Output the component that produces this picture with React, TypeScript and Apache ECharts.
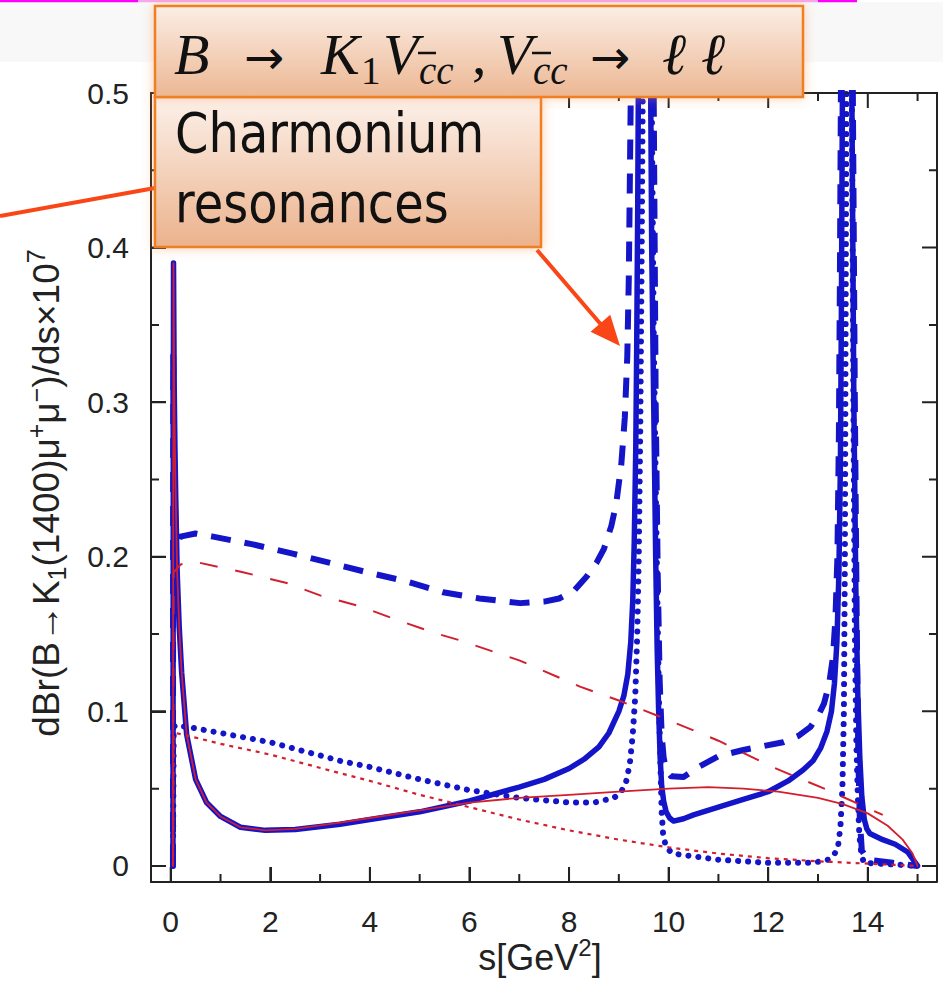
import React, { useEffect, useRef } from 'react';
import * as echarts from 'echarts';

// Axis ticks (s in GeV^2, rate in units of 1e-7)
const xMajorTicks = [0, 2, 4, 6, 8, 10, 12, 14];
const xMinorTicks = [1, 3, 5, 7, 9, 11, 13, 15];
const yMajorTicks = [0, 0.1, 0.2, 0.3, 0.4, 0.5];
const yMinorTicks = [0.05, 0.15, 0.25, 0.35, 0.45];

// Blue: with charmonium resonances; red: short-distance only
const blueSolid: [number, number][] = [
  [0.045, 0], [0.05, 0.2], [0.056, 0.39], [0.07, 0.31], [0.085, 0.27], [0.1, 0.24], [0.13, 0.19],
  [0.17, 0.155], [0.22, 0.125], [0.32, 0.085], [0.5, 0.056], [0.72, 0.041], [1.0, 0.032],
  [1.4, 0.025], [1.9, 0.023], [2.5, 0.0235], [3.4, 0.027], [4.0, 0.03], [5.0, 0.035],
  [6.0, 0.042], [7.0, 0.051], [7.5, 0.056], [8.0, 0.063], [8.3, 0.069], [8.6, 0.077],
  [8.8, 0.086], [9.0, 0.1], [9.1, 0.11], [9.18, 0.124], [9.24, 0.145], [9.28, 0.172],
  [9.31, 0.21], [9.34, 0.27], [9.36, 0.34], [9.38, 0.43], [9.4, 0.55], [9.5, 1.5],
  [9.62, 0.6], [9.66, 0.4], [9.7, 0.3], [9.74, 0.2], [9.77, 0.14], [9.8, 0.1], [9.83, 0.07],
  [9.86, 0.052], [9.9, 0.042], [9.95, 0.035], [10.02, 0.031], [10.1, 0.029], [10.3, 0.0305],
  [10.5, 0.033], [11.0, 0.038], [11.5, 0.043], [12.0, 0.048], [12.4, 0.055], [12.7, 0.062],
  [12.9, 0.068], [13.05, 0.076], [13.18, 0.087], [13.27, 0.1], [13.33, 0.118], [13.38, 0.145],
  [13.42, 0.19], [13.45, 0.26], [13.47, 0.36], [13.49, 0.5], [13.58, 1.5], [13.68, 0.5],
  [13.72, 0.3], [13.76, 0.18], [13.8, 0.11], [13.84, 0.07], [13.88, 0.045], [13.93, 0.03],
  [13.98, 0.024], [14.04, 0.021], [14.3, 0.017], [14.55, 0.014], [14.8, 0.009], [15.0, 0],
];

const blueDashed: [number, number][] = [
  [0.045, 0], [0.05, 0.33], [0.07, 0.24], [0.1, 0.205], [0.14, 0.208], [0.19, 0.213],
  [0.5, 0.215], [0.85, 0.213], [1.65, 0.208], [2.45, 0.202], [3.2, 0.196], [3.94, 0.19],
  [4.74, 0.184], [5.47, 0.177], [6.2, 0.173], [7.02, 0.17], [7.5, 0.171], [7.8, 0.173],
  [8.1, 0.178], [8.35, 0.187], [8.55, 0.196], [8.7, 0.205], [8.85, 0.22], [8.95, 0.235],
  [9.05, 0.26], [9.12, 0.29], [9.17, 0.33], [9.2, 0.38], [9.22, 0.44], [9.24, 0.5],
  [9.3, 0.8], [9.5, 1.5], [9.7, 0.5], [9.74, 0.3], [9.78, 0.19], [9.82, 0.12], [9.86, 0.085],
  [9.9, 0.07], [9.95, 0.062], [10.05, 0.058], [10.3, 0.0576], [10.6, 0.064], [11.0, 0.071],
  [11.5, 0.075], [11.9, 0.0775], [12.3, 0.08], [12.6, 0.084], [12.85, 0.09], [13.0, 0.097],
  [13.12, 0.105], [13.22, 0.117], [13.3, 0.135], [13.35, 0.16], [13.39, 0.2], [13.42, 0.28],
  [13.44, 0.38], [13.46, 0.5], [13.57, 1.5], [13.7, 0.5], [13.74, 0.3], [13.78, 0.15],
  [13.81, 0.07], [13.84, 0.03], [13.88, 0.01], [14.0, 0.004], [14.5, 0.002], [15.0, 0],
];

const blueDotted: [number, number][] = [
  [0.045, 0], [0.06, 0.09], [0.1, 0.091], [0.5, 0.089], [1.0, 0.086], [2.0, 0.08],
  [3.4, 0.068], [4.0, 0.064], [5.0, 0.056], [6.0, 0.049], [7.0, 0.044], [8.0, 0.041],
  [8.5, 0.041], [8.9, 0.044], [9.05, 0.048], [9.15, 0.055], [9.22, 0.066], [9.28, 0.085],
  [9.33, 0.11], [9.37, 0.15], [9.4, 0.2], [9.43, 0.28], [9.46, 0.4], [9.48, 0.5], [9.56, 1.5],
  [9.66, 0.5], [9.7, 0.35], [9.74, 0.25], [9.78, 0.16], [9.81, 0.1], [9.84, 0.06],
  [9.86, 0.035], [9.89, 0.02], [9.95, 0.012], [10.08, 0.008], [11.0, 0.004], [12.0, 0.002],
  [12.9, 0.002], [13.2, 0.004], [13.32, 0.007], [13.4, 0.012], [13.45, 0.025], [13.49, 0.05],
  [13.52, 0.1], [13.54, 0.2], [13.56, 0.4], [13.57, 0.5], [13.62, 1.5], [13.68, 0.5],
  [13.71, 0.3], [13.74, 0.15], [13.77, 0.08], [13.8, 0.045], [13.83, 0.02], [13.87, 0.008],
  [13.92, 0.002], [14.5, 0.001], [15.0, 0],
];

const redSolid: [number, number][] = [
  [0.045, 0], [0.05, 0.2], [0.056, 0.39], [0.07, 0.31], [0.085, 0.27], [0.1, 0.24], [0.13, 0.19],
  [0.17, 0.155], [0.22, 0.125], [0.32, 0.085], [0.5, 0.056], [0.72, 0.041], [1.0, 0.032],
  [1.4, 0.025], [1.9, 0.023], [2.5, 0.024], [3.4, 0.028], [4.0, 0.031], [5.0, 0.036],
  [6.0, 0.041], [7.0, 0.044], [8.0, 0.046], [9.0, 0.048], [10.0, 0.05], [10.8, 0.051],
  [11.5, 0.05], [12.2, 0.048], [13.0, 0.044], [13.5, 0.04], [14.0, 0.034], [14.4, 0.026],
  [14.7, 0.017], [14.9, 0.008], [15.0, 0],
];

const redDashed: [number, number][] = [
  [0.045, 0], [0.06, 0.19], [0.2, 0.195], [0.45, 0.197], [1.45, 0.19], [2.33, 0.183],
  [3.0, 0.175], [3.8, 0.168], [4.47, 0.16], [5.27, 0.151], [5.8, 0.146], [7.0, 0.133],
  [8.22, 0.116], [9.0, 0.107], [9.87, 0.096], [11.0, 0.081], [12.08, 0.064], [13.2, 0.049],
  [14.3, 0.033],
];

const redDotted: [number, number][] = [
  [0.045, 0], [0.06, 0.085], [0.1, 0.086], [0.5, 0.083], [1.0, 0.079], [2.0, 0.072],
  [3.4, 0.06], [4.0, 0.055], [5.0, 0.046], [6.0, 0.038], [7.0, 0.03], [8.0, 0.023],
  [9.0, 0.017], [10.0, 0.012], [11.0, 0.008], [12.0, 0.005], [13.0, 0.003], [14.0, 0.0015],
  [15.0, 0],
];

const BLUE = '#1414c8';
const RED = '#d21f2f';
const ORANGE = '#f07f23';
const ARROW = '#fa4617';
const AXIS = '#222';

const X_MIN = -0.396;
const X_MAX = 15.39;
const Y_MIN = -0.0104;
const Y_MAX = 0.5;

const GRID = { left: 151, top: 93, right: 6, bottom: 101 };
const PLOT_W = 943 - GRID.left - GRID.right;
const PLOT_H = 983 - GRID.top - GRID.bottom;
const MAJOR_PX = 15;
const MINOR_PX = 8;

const sans = "'Liberation Sans', Arial, sans-serif";
const serif = "'Liberation Serif', 'Times New Roman', serif";

function lineSeries(data: [number, number][], color: string, width: number, type: any, cap: string, z: number) {
  return {
    type: 'line',
    data,
    symbol: 'none',
    smooth: false,
    clip: true,
    z,
    lineStyle: { color, width, type, cap, join: 'round' },
  };
}

// One "comb" polyline per frame side: it runs along the edge and steps inward at every tick.
function combSeries() {
  const dxPerPx = (X_MAX - X_MIN) / PLOT_W;
  const dyPerPx = (Y_MAX - Y_MIN) / PLOT_H;
  const xTicks = [
    ...xMajorTicks.map((v) => ({ v, px: MAJOR_PX })),
    ...xMinorTicks.map((v) => ({ v, px: MINOR_PX })),
  ].sort((a, b) => a.v - b.v);
  const yTicks = [
    ...yMajorTicks.map((v) => ({ v, px: MAJOR_PX })),
    ...yMinorTicks.map((v) => ({ v, px: MINOR_PX })),
  ].sort((a, b) => a.v - b.v);

  const horizontal = (edge: number, dir: number) => {
    const pts: [number, number][] = [[X_MIN, edge]];
    xTicks.forEach(({ v, px }) => {
      pts.push([v, edge], [v, edge + dir * px * dyPerPx], [v, edge]);
    });
    pts.push([X_MAX, edge]);
    return pts;
  };
  const vertical = (edge: number, dir: number) => {
    const pts: [number, number][] = [[edge, Y_MIN]];
    yTicks.forEach(({ v, px }) => {
      pts.push([edge, v], [edge + dir * px * dxPerPx, v], [edge, v]);
    });
    pts.push([edge, Y_MAX]);
    return pts;
  };
  const mk = (data: [number, number][]) => ({
    type: 'line',
    data,
    symbol: 'none',
    clip: false,
    lineStyle: { color: AXIS, width: 2, join: 'miter' },
  });
  return [
    mk(horizontal(Y_MIN, 1)),
    mk(horizontal(Y_MAX, -1)),
    mk(vertical(X_MIN, 1)),
    mk(vertical(X_MAX, -1)),
  ];
}

const boxFill = (top: string, bottom: string) => ({
  type: 'linear',
  x: 0, y: 0, x2: 0, y2: 1,
  colorStops: [
    { offset: 0, color: top },
    { offset: 1, color: bottom },
  ],
});

function mathText(text: string, x: number, baseline: number, size: number, italic: boolean, family = serif) {
  const y = baseline - 0.34 * size;
  return {
    type: 'text',
    x,
    y,
    z: 120,
    style: {
      text,
      fill: '#111',
      fontSize: size,
      fontFamily: family,
      fontStyle: italic ? 'italic' : 'normal',
      align: 'left',
      verticalAlign: 'middle',
      textAlign: 'left',
      textVerticalAlign: 'middle',
    },
  };
}

function arrowHead(tipX: number, tipY: number, fromX: number, fromY: number, len: number, half: number) {
  const dx = tipX - fromX;
  const dy = tipY - fromY;
  const d = Math.hypot(dx, dy);
  const ux = dx / d;
  const uy = dy / d;
  const bx = tipX - ux * len;
  const by = tipY - uy * len;
  return [
    [tipX, tipY],
    [bx - uy * half, by + ux * half],
    [bx + uy * half, by - ux * half],
  ];
}

function decorations() {
  const arrowFrom = [537, 250];
  const arrowTip = [620, 346];
  return [
    // faint grey strip at the top of the slide
    { type: 'rect', z: -10, shape: { x: 0, y: 2, width: 943, height: 60 }, style: { fill: '#f8f8f8' } },
    // magenta rule
    { type: 'line', z: 90, shape: { x1: 0, y1: 1, x2: 138, y2: 1 }, style: { stroke: '#ff00ff', lineWidth: 2.5 } },
    { type: 'line', z: 90, shape: { x1: 138, y1: 1, x2: 818, y2: 1 }, style: { stroke: '#f6a6ef', lineWidth: 2.5 } },
    { type: 'line', z: 90, shape: { x1: 818, y1: 1, x2: 857, y2: 1 }, style: { stroke: '#ff00ff', lineWidth: 2.5 } },

    // pointer from the left margin to the callout box
    { type: 'line', z: 95, shape: { x1: 0, y1: 216, x2: 155, y2: 188 }, style: { stroke: ARROW, lineWidth: 4 } },

    // callout: charmonium resonances
    {
      type: 'rect', z: 100,
      shape: { x: 155, y: 97, width: 386, height: 150 },
      style: {
        fill: boxFill('#fcf1ea', '#ebb28c'), stroke: ORANGE, lineWidth: 2.5,
        shadowBlur: 12, shadowColor: 'rgba(244,150,80,0.45)',
      },
    },
    {
      type: 'text', z: 120, x: 175, y: 133, scaleY: 1.15,
      style: {
        text: 'Charmonium', fill: '#111', fontSize: 48, fontFamily: "'DejaVu Sans', sans-serif",
        align: 'left', verticalAlign: 'middle', textAlign: 'left', textVerticalAlign: 'middle',
      },
    },
    {
      type: 'text', z: 120, x: 175, y: 203, scaleY: 1.15,
      style: {
        text: 'resonances', fill: '#111', fontSize: 48, fontFamily: "'DejaVu Sans', sans-serif",
        align: 'left', verticalAlign: 'middle', textAlign: 'left', textVerticalAlign: 'middle',
      },
    },

    // title box: B -> K1 V(cc), V(cc) -> l l
    {
      type: 'rect', z: 105,
      shape: { x: 155, y: 6, width: 648, height: 91 },
      style: {
        fill: boxFill('#fbeee5', '#ecb793'), stroke: ORANGE, lineWidth: 2.5,
        shadowBlur: 12, shadowColor: 'rgba(244,150,80,0.45)',
      },
    },
    mathText('B', 174, 74, 58, true),
    mathText('→', 244, 73, 48, false, "'DejaVu Sans', sans-serif"),
    mathText('K', 321, 74, 58, true),
    mathText('1', 361, 84, 39, false),
    mathText('V', 383, 74, 58, true),
    mathText('cc', 419, 84, 39, true),
    mathText(',', 472, 74, 58, false),
    mathText('V', 497, 74, 58, true),
    mathText('cc', 533, 84, 39, true),
    mathText('→', 590, 73, 48, false, "'DejaVu Sans', sans-serif"),
    mathText('ℓ', 662, 74, 58, true),
    mathText('ℓ', 701, 74, 58, true),
    { type: 'line', z: 121, shape: { x1: 418, y1: 53, x2: 436, y2: 53 }, style: { stroke: '#111', lineWidth: 2.5 } },
    { type: 'line', z: 121, shape: { x1: 532, y1: 53, x2: 551, y2: 53 }, style: { stroke: '#111', lineWidth: 2.5 } },

    // arrow towards the J/psi peak
    {
      type: 'line', z: 95,
      shape: { x1: arrowFrom[0], y1: arrowFrom[1], x2: 604, y2: 328 },
      style: { stroke: ARROW, lineWidth: 4 },
    },
    {
      type: 'polygon', z: 96,
      shape: { points: arrowHead(arrowTip[0], arrowTip[1], arrowFrom[0], arrowFrom[1], 30, 13) },
      style: { fill: ARROW },
    },

    // axis titles
    {
      type: 'text', z: 50, x: 46, y: 493, rotation: Math.PI / 2,
      style: {
        text: '{m|dBr(B→K}{sb|1}{m|(1400)μ}{sp|+}{m|μ}{sp|−}{m|)/ds×10}{sp|7}',
        align: 'center', verticalAlign: 'middle', textAlign: 'center', textVerticalAlign: 'middle',
        fill: AXIS,
        rich: {
          m: { fontSize: 37, lineHeight: 46, fontFamily: sans, fill: AXIS, color: AXIS },
          sb: { fontSize: 25, lineHeight: 26, verticalAlign: 'bottom', fontFamily: sans, fill: AXIS, color: AXIS },
          sp: { fontSize: 25, lineHeight: 26, verticalAlign: 'top', fontFamily: sans, fill: AXIS, color: AXIS },
        },
      },
    },
    {
      type: 'text', z: 50, x: 540, y: 957,
      style: {
        text: '{m|s[GeV}{sp|2}{m|]}',
        align: 'center', verticalAlign: 'middle', textAlign: 'center', textVerticalAlign: 'middle',
        fill: AXIS,
        rich: {
          m: { fontSize: 36, lineHeight: 44, fontFamily: sans, fill: AXIS, color: AXIS },
          sp: { fontSize: 24, lineHeight: 24, verticalAlign: 'top', fontFamily: sans, fill: AXIS, color: AXIS },
        },
      },
    },
  ];
}

export default function App() {
  const ref = useRef<HTMLDivElement>(null);

  useEffect(() => {
    if (!ref.current) return;
    const chart = echarts.init(ref.current, undefined, { renderer: 'svg' });

    const option: any = {
      animation: false,
      backgroundColor: '#fff',
      grid: GRID,
      xAxis: {
        type: 'value',
        min: X_MIN,
        max: X_MAX,
        axisLine: { show: true, onZero: false, lineStyle: { color: AXIS, width: 2 } },
        axisTick: { show: true, inside: true, length: MAJOR_PX, customValues: xMajorTicks, lineStyle: { color: AXIS, width: 2 } },
        axisLabel: { customValues: xMajorTicks, margin: 24, color: AXIS, fontSize: 30, fontFamily: sans },
        splitLine: { show: false },
      },
      yAxis: {
        type: 'value',
        min: Y_MIN,
        max: Y_MAX,
        axisLine: { show: true, onZero: false, lineStyle: { color: AXIS, width: 2 } },
        axisTick: { show: true, inside: true, length: MAJOR_PX, customValues: yMajorTicks, lineStyle: { color: AXIS, width: 2 } },
        axisLabel: {
          customValues: yMajorTicks,
          margin: 22,
          color: AXIS,
          fontSize: 30,
          fontFamily: sans,
          formatter: (v: number) => (Math.abs(v) < 1e-9 ? '0' : v.toFixed(1)),
        },
        splitLine: { show: false },
      },
      series: [
        lineSeries(blueDotted, BLUE, 6, [0.1, 9.9], 'round', 3),
        lineSeries(blueDashed, BLUE, 6, [20, 14], 'butt', 4),
        lineSeries(blueSolid, BLUE, 5.5, 'solid', 'round', 5),
        lineSeries(redDotted, RED, 2.2, [4, 5], 'butt', 6),
        lineSeries(redDashed, RED, 2, [18, 18], 'butt', 7),
        lineSeries(redSolid, RED, 1.8, 'solid', 'round', 8),
        ...combSeries(),
      ],
      graphic: { elements: decorations() },
    };

    chart.setOption(option);

    return () => {
      chart.dispose();
    };
  }, []);

  return (
    <div
      ref={ref}
      style={{ position: 'fixed', left: 0, top: 0, width: 943, height: 983, background: '#fff' }}
    />
  );
}
